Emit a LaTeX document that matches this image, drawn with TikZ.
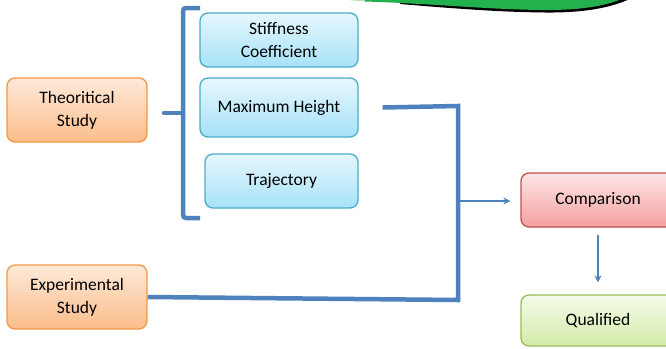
\documentclass[tikz,border=0pt]{standalone}
\usepackage{fontspec}
\setmainfont{Carlito}
\usetikzlibrary{arrows.meta}
\definecolor{orgline}{HTML}{F79646}
\definecolor{orgtop}{HTML}{FDE9D9}
\definecolor{orgbot}{HTML}{FBBD8B}
\definecolor{bluline}{HTML}{4BACC6}
\definecolor{blutop}{HTML}{E6F7FD}
\definecolor{blubot}{HTML}{A6E2F8}
\definecolor{redline}{HTML}{C0504D}
\definecolor{redtop}{HTML}{FDE6E6}
\definecolor{redbot}{HTML}{F4A0A0}
\definecolor{grnline}{HTML}{9BBB59}
\definecolor{grntop}{HTML}{F5FBEB}
\definecolor{grnbot}{HTML}{D3EBA8}
\definecolor{conn}{HTML}{4F81BD}
\definecolor{leaf}{HTML}{22B14C}

\begin{document}
\begin{tikzpicture}[x=1pt, y=-1pt, >={Stealth[length=7pt,width=7pt]},
    box/.style={rounded corners=8pt, line width=1.3pt, align=center, inner sep=0pt,
        font=\fontsize{17.5}{23}\selectfont},
    study/.style={box, draw=orgline, top color=orgtop, bottom color=orgbot,
        minimum width=140pt, minimum height=64pt},
    param/.style={box, draw=bluline, top color=blutop, bottom color=blubot, minimum height=54pt},
    result/.style={box, minimum width=154pt, minimum height=54pt},
    link/.style={conn, line width=4.5pt},
    flow/.style={conn, line width=1.5pt, ->}]

    \useasboundingbox (0,0) rectangle (666,348);
    \clip (0,0) rectangle (666,348);

    \fill[black] (400,-2) -- (400,4) .. controls (460,9) and (500,12) .. (545,12.5)
        .. controls (590,13) and (615,6) .. (632,-2) -- cycle;
    \fill[leaf!35] (338,-2) .. controls (345,0) and (355,1) .. (370,1.5) -- (370,-2) -- cycle;
    \fill[leaf] (365,-2) -- (365,1.5) .. controls (440,4) and (480,9) .. (540,10)
        .. controls (585,10.5) and (608,5) .. (624,-2) -- cycle;

    \node[study] (theo) at (77,110) {Theoritical\\Study};
    \node[study] (exp) at (77,297) {Experimental\\Study};

    \node[param, minimum width=158pt] (stiff) at (279,40) {Stiffness\\Coefficient};
    \node[param, minimum width=158pt, minimum height=59pt] (maxh) at (279,107.5) {Maximum Height};
    \node[param, minimum width=153pt] (traj) at (281.5,181) {Trajectory};

    \node[result, draw=redline, top color=redtop, bottom color=redbot] (comp) at (598,200) {Comparison};
    \node[result, draw=grnline, top color=grntop, bottom color=grnbot, minimum height=51pt] (qual) at (598,320.5) {Qualified};

    \draw[link, rounded corners=3pt] (200,8) -- (183,8) -- (183,218) -- (200,218);
    \draw[link, line cap=round] (183,113) -- (164,113);

    \coordinate (top) at (458,106);
    \coordinate (bot) at (458,300);
    \coordinate (mid) at (458,201);
    \draw[link] ([xshift=24pt]maxh.east) -- (top) -- (bot) -- (exp.east);
    \draw[flow, shorten >=10pt] (mid) -- (mid -| comp.west);
    \draw[flow, shorten <=7pt, shorten >=12pt] (comp.south) -- (qual.north);

\end{tikzpicture}
\end{document}
